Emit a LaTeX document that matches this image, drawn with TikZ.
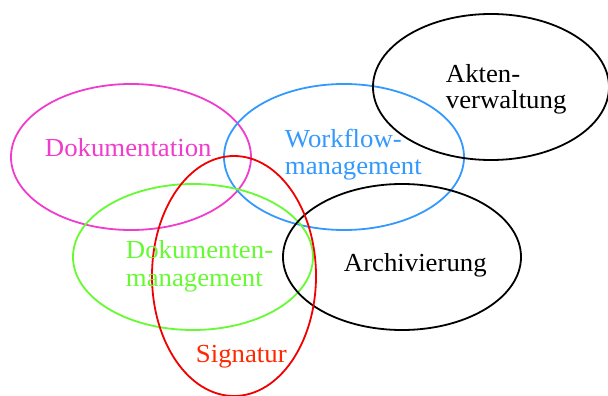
\documentclass[tikz,border=0pt]{standalone}
\usepackage{fontspec}
\setmainfont{Liberation Serif}
\usepackage{xcolor}
\usepackage{tikz}
\definecolor{dokpink}{RGB}{240,60,205}
\definecolor{wfblue}{RGB}{51,153,255}
\definecolor{dmsgreen}{RGB}{102,250,51}
\definecolor{sigred}{RGB}{240,0,0}
\definecolor{sigtext}{RGB}{255,40,0}

\begin{document}
\begin{tikzpicture}[x=1pt,y=-1pt,line width=1.8pt,
    lbl/.style={anchor=base west,inner sep=0pt,font=\fontsize{26}{28}\selectfont,xscale=1.03}]
    \useasboundingbox (0,0) rectangle (608,396);

    % Ellipses
    \draw[dokpink] (131,157) ellipse [x radius=120,y radius=73];
    \draw[wfblue] (344,157) ellipse [x radius=120,y radius=73];
    \draw[black] (491,87) ellipse [x radius=118,y radius=73];
    \draw[dmsgreen] (193,257) ellipse [x radius=120,y radius=73];
    \draw[black] (402,257) ellipse [x radius=119,y radius=73];
    \draw[sigred] (234,276) ellipse [x radius=82,y radius=120];

    % Labels
    \node[lbl,text=dokpink] (dok) at (44,156) {Dokumentation};
    \node[lbl,text=wfblue] (wf1) at (284,147) {Workflow-};
    \node[lbl,text=wfblue] (wf2) at (284,174) {management};
    \node[lbl] (akt1) at (445,82) {Akten-};
    \node[lbl] (akt2) at (445,109) {verwaltung};
    \node[lbl,text=dmsgreen] (dms1) at (125,258) {Dokumenten-};
    \node[lbl,text=dmsgreen] (dms2) at (125,286) {management};
    \node[lbl] (arch) at (343,271) {Archivierung};
    \node[lbl,text=sigtext] (sig) at (195,362) {Signatur};
\end{tikzpicture}
\end{document}
